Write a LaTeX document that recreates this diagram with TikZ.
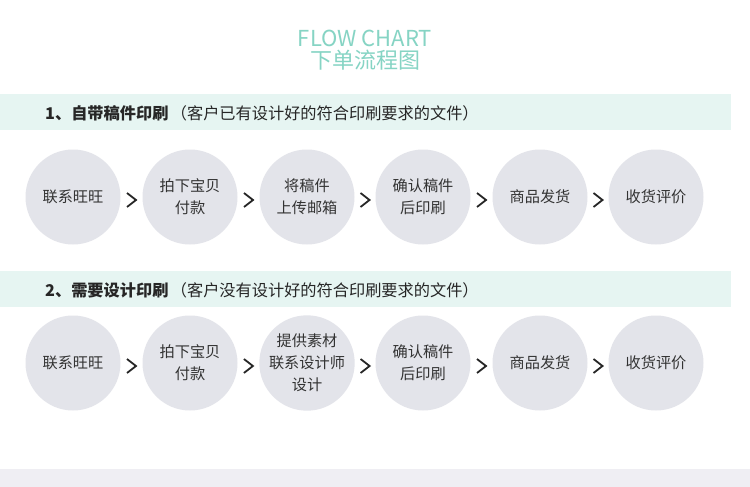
\documentclass[tikz,border=0pt]{standalone}
\usepackage{fontspec}
\usetikzlibrary{calc}
\setmainfont{Noto Sans CJK SC}
\newfontfamily\cjk{Noto Sans CJK SC}
\definecolor{ttl}{HTML}{86D4C4}
\definecolor{band}{HTML}{E6F5F2}
\definecolor{circ}{HTML}{E3E4EA}
\definecolor{strip}{HTML}{EFEEF3}
\definecolor{txt}{HTML}{333333}
\tikzset{
  stepcirc/.style={circle,fill=circ,minimum size=95pt,inner sep=0pt,align=center,
    font=\fontsize{15.2pt}{22pt}\selectfont\cjk,text=txt},
  chev/.style={draw=black!85,line width=1.8pt},
  hdr/.style={anchor=west,font=\fontsize{16.2pt}{18pt}\selectfont\cjk,text=black!85,inner sep=0pt}
}
\begin{document}
\begin{tikzpicture}[x=1pt,y=-1pt]
\useasboundingbox (0,0) rectangle (750,487);
\fill[white] (0,0) rectangle (750,487);
\node[font=\fontsize{22pt}{24pt}\selectfont\cjk,text=ttl] (t1) at (365,38) {FLOW CHART};
\node[font=\fontsize{22pt}{24pt}\selectfont\cjk,text=ttl] (t2) at (365,60) {下单流程图};
\fill[band] (0,94) rectangle (731,130);
\fill[band] (0,271) rectangle (731,307);
\fill[strip] (0,469) rectangle (750,487);
\node[hdr] (h1) at (45,113) {\textbf{1、自带稿件印刷}\hspace{0.15em}（客户已有设计好的符合印刷要求的文件）};
\node[hdr] (h2) at (45,290) {\textbf{2、需要设计印刷}\hspace{0.15em}（客户没有设计好的符合印刷要求的文件）};
% row 1
\node[stepcirc] (a1) at (73,197) {联系旺旺};
\node[stepcirc] (a2) at (190,197) {拍下宝贝\\付款};
\node[stepcirc] (a3) at (307,197) {将稿件\\上传邮箱};
\node[stepcirc] (a4) at (423,197) {确认稿件\\后印刷};
\node[stepcirc] (a5) at (540,197) {商品发货};
\node[stepcirc] (a6) at (656,197) {收货评价};
% row 2
\node[stepcirc] (b1) at (73,363) {联系旺旺};
\node[stepcirc] (b2) at (190,363) {拍下宝贝\\付款};
\node[stepcirc] (b3) at (307,363) {提供素材\\联系设计师\\设计};
\node[stepcirc] (b4) at (423,363) {确认稿件\\后印刷};
\node[stepcirc] (b5) at (540,363) {商品发货};
\node[stepcirc] (b6) at (656,363) {收货评价};
\foreach \r in {a,b}{
  \foreach \i/\j in {1/2,2/3,3/4,4/5,5/6}{
    \coordinate (\r\i m) at ($(\r\i.east)!0.5!(\r\j.west)+(0,3)$);
    \draw[chev] ($(\r\i m)+(-4.5,-7)$) -- ($(\r\i m)+(4.5,0)$) -- ($(\r\i m)+(-4.5,7)$);
  }
}
\end{tikzpicture}
\end{document}
